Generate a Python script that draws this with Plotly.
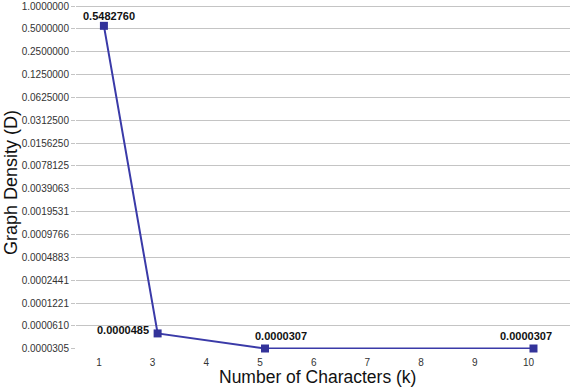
import math
import plotly.graph_objects as go

# Data
categories = [1, 3, 4, 5, 6, 7, 8, 9, 10]
k_values = [1, 3, 5, 10]
density = [0.5482760, 0.0000485, 0.0000307, 0.0000307]
density_labels = ["0.5482760", "0.0000485", "0.0000307", "0.0000307"]
y_tick_values = [2.0 ** (-i) for i in range(0, 16)]
y_tick_labels = ["1.0000000", "0.5000000", "0.2500000", "0.1250000", "0.0625000",
                 "0.0312500", "0.0156250", "0.0078125", "0.0039063", "0.0019531",
                 "0.0009766", "0.0004883", "0.0002441", "0.0001221", "0.0000610",
                 "0.0000305"]
x_title = "Number of Characters (k)"
y_title = "Graph Density (D)"

# label offsets (pixels) per point: style only
label_dx = [5, -35, 16, -7]
label_dy = [10, 3, 13, 13]

cat_pos = [categories.index(k) for k in k_values]

font_family = "Liberation Sans, Arial, sans-serif"
line_color = "#3A3AA8"
marker_color = "#33339A"

fig = go.Figure()
fig.add_trace(go.Scatter(
    x=cat_pos, y=density, mode="lines+markers",
    line=dict(color=line_color, width=2),
    marker=dict(symbol="square", size=8, color=marker_color),
    showlegend=False, hoverinfo="skip", cliponaxis=False,
))

annotations = []
for xp, yv, txt, dx, dy in zip(cat_pos, density, density_labels, label_dx, label_dy):
    annotations.append(dict(
        x=xp, y=math.log10(yv), xref="x", yref="y",
        text="<b>%s</b>" % txt, showarrow=False,
        xshift=dx, yshift=dy,
        font=dict(family=font_family, size=11, color="#111111"),
    ))

# axis titles as annotations (for precise placement)
annotations.append(dict(
    text=x_title, xref="paper", yref="paper", x=0.488, y=-0.081,
    xanchor="center", yanchor="middle", showarrow=False,
    font=dict(family=font_family, size=17.5, color="#111111"),
))
annotations.append(dict(
    text=y_title, xref="paper", yref="paper", x=-0.1315, y=0.4826,
    xanchor="center", yanchor="middle", showarrow=False, textangle=-90,
    font=dict(family=font_family, size=18, color="#111111"),
))

y_lo = math.log10(y_tick_values[-1])
y_hi = math.log10(y_tick_values[0])
pad = (y_hi - y_lo) * 0.003

fig.update_layout(
    width=570, height=391,
    margin=dict(l=76, r=0, t=5, b=42),
    paper_bgcolor="white", plot_bgcolor="white",
    font=dict(family=font_family, color="#333333"),
    annotations=annotations,
    xaxis=dict(
        range=[-0.52, 8.68],
        tickmode="array",
        tickvals=list(range(len(categories))),
        ticktext=[str(c) for c in categories],
        ticklabelshift=-5,
        ticklabelstandoff=6,
        showgrid=False, zeroline=False,
        showline=False, ticks="",
        automargin=False,
        tickfont=dict(size=10, color="#333333"),
    ),
    yaxis=dict(
        type="log",
        range=[y_lo - pad * 0.3, y_hi + pad],
        tickmode="array",
        tickvals=y_tick_values,
        ticktext=y_tick_labels,
        ticklabeloverflow="allow",
        showgrid=True, gridcolor="#C4C4C4", gridwidth=1,
        ticks="outside", ticklen=4, tickcolor="#C4C4C4",
        showline=False, zeroline=False,
        automargin=False,
        tickfont=dict(size=10, color="#333333"),
    ),
)

fig.write_html("out.html", config={"displayModeBar": False},
               post_script="document.body.style.margin='0';document.body.style.overflow='hidden';")
